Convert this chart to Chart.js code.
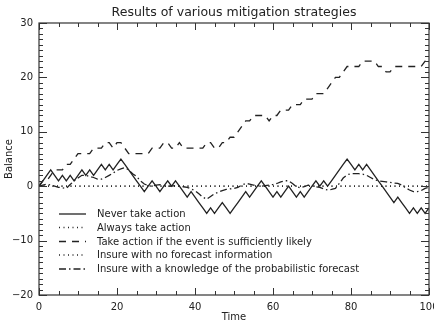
<!DOCTYPE html>
<html>
<head>
<meta charset="utf-8">
<script src="https://cdn.jsdelivr.net/npm/chart.js@4.4.1/dist/chart.umd.min.js"></script>
<style>
  html, body { margin: 0; padding: 0; background: #fff; }
  #wrap { width: 434px; height: 322px; }
</style>
</head>
<body>
<div id="wrap"><canvas id="c" width="434" height="322"></canvas></div>
<script>
// ─── Data ──────────────────────────────────────────────────────────────────
const times = [
  0, 1, 2, 3, 4, 5, 6, 7, 8, 9, 10, 11, 12, 13, 14, 15, 16, 17, 18, 19,
  20, 21, 22, 23, 24, 25, 26, 27, 28, 29, 30, 31, 32, 33, 34, 35, 36, 37, 38, 39,
  40, 41, 42, 43, 44, 45, 46, 47, 48, 49, 50, 51, 52, 53, 54, 55, 56, 57, 58, 59,
  60, 61, 62, 63, 64, 65, 66, 67, 68, 69, 70, 71, 72, 73, 74, 75, 76, 77, 78, 79,
  80, 81, 82, 83, 84, 85, 86, 87, 88, 89, 90, 91, 92, 93, 94, 95, 96, 97, 98, 99, 100
];

const neverAct = [
  0, 1, 2, 3, 2, 1, 2, 1, 2, 1, 2, 3, 2, 3, 2, 3, 4, 3, 4, 3,
  4, 5, 4, 3, 2, 1, 0, -1, 0, 1, 0, -1, 0, 1, 0, 1, 0, -1, -2, -1,
  -2, -3, -4, -5, -4, -5, -4, -3, -4, -5, -4, -3, -2, -1, -2, -1, 0, 1, 0, -1,
  -2, -1, -2, -1, 0, -1, -2, -1, -2, -1, 0, 1, 0, 1, 0, 1, 2, 3, 4, 5,
  4, 3, 4, 3, 4, 3, 2, 1, 0, -1, -2, -3, -2, -3, -4, -5, -4, -5, -4, -5, -4
];

const alwaysAct = [
  0, 0, 0, 0, 0, 0, 0, 0, 0, 0, 0, 0, 0, 0, 0, 0, 0, 0, 0, 0,
  0, 0, 0, 0, 0, 0, 0, 0, 0, 0, 0, 0, 0, 0, 0, 0, 0, 0, 0, 0,
  0, 0, 0, 0, 0, 0, 0, 0, 0, 0, 0, 0, 0, 0, 0, 0, 0, 0, 0, 0,
  0, 0, 0, 0, 0, 0, 0, 0, 0, 0, 0, 0, 0, 0, 0, 0, 0, 0, 0, 0,
  0, 0, 0, 0, 0, 0, 0, 0, 0, 0, 0, 0, 0, 0, 0, 0, 0, 0, 0, 0, 0
];

const actIfLikely = [
  0, 1, 1, 2, 3, 3, 3, 4, 4, 5, 6, 6, 6, 6, 7, 7, 7, 8, 8, 7,
  8, 8, 7, 6, 6, 6, 6, 6, 6, 7, 7, 7, 8, 8, 7, 7, 8, 7, 7, 7,
  7, 7, 7, 8, 8, 7, 7, 8, 8, 9, 9, 10, 11, 12, 12, 13, 13, 13, 13, 12,
  13, 13, 14, 14, 14, 15, 15, 15, 16, 16, 16, 17, 17, 17, 18, 19, 20, 20, 21, 22,
  22, 22, 22, 23, 23, 23, 23, 22, 22, 21, 21, 22, 22, 22, 22, 22, 22, 22, 22, 23, 23
];

const insureNoForecast = [
  0, 0, 0, 0, 0, 0, 0, 0, 0, 0, 0, 0, 0, 0, 0, 0, 0, 0, 0, 0,
  0, 0, 0, 0, 0, 0, 0, 0, 0, 0, 0, 0, 0, 0, 0, 0, 0, 0, 0, 0,
  0, 0, 0, 0, 0, 0, 0, 0, 0, 0, 0, 0, 0, 0, 0, 0, 0, 0, 0, 0,
  0, 0, 0, 0, 0, 0, 0, 0, 0, 0, 0, 0, 0, 0, 0, 0, 0, 0, 0, 0,
  0, 0, 0, 0, 0, 0, 0, 0, 0, 0, 0, 0, 0, 0, 0, 0, 0, 0, 0, 0, 0
];

const insureWithForecast = [
  0, 0.2, 0.4, 0.2, 0, -0.2, -0.3, -0.4, 0.3, 1, 1.5, 2, 2, 1.8, 1.6, 1.3, 1.3, 1.6, 2, 2.4,
  2.9, 3.2, 3.4, 3, 2.3, 1.8, 1, 0.4, 0.1, 0, 0.2, 0.3, 0.1, 0, 0, 0.1, 0, -0.1, -0.2, -0.5,
  -0.8, -1.4, -2, -2.4, -1.9, -1.4, -1.1, -0.8, -0.6, -0.5, -0.4, -0.2, 0.2, 0.5, 0.4, 0.2, 0.1, 0, 0.1, 0.2,
  0.3, 0.5, 0.8, 1, 1, 0.5, -0.1, -0.3, -0.1, 0.2, 0.1, -0.1, -0.2, -0.5, -0.7, -0.6, -0.4, 0.5, 1.5, 2.1,
  2.3, 2.3, 2.3, 2.2, 2, 1.6, 1.2, 1, 0.9, 0.8, 0.7, 0.6, 0.5, 0.2, -0.3, -0.7, -1, -1, -0.8, -0.4, -0.2
];

const seriesLabels = [
  'Never take action',
  'Always take action',
  'Take action if the event is sufficiently likely',
  'Insure with no forecast information',
  'Insure with a knowledge of the probabilistic forecast'
];

const xTicks = [0, 20, 40, 60, 80, 100];
const yTicks = [-20, -10, 0, 10, 20, 30];

// ─── Styling ───────────────────────────────────────────────────────────────
const INK = '#222';
const FONT = '"DejaVu Sans", Verdana, sans-serif';
const DASHES = [[], [1, 3.5], [7, 6], [1, 3.5], [7, 3, 1.5, 3]];

function series(i, data) {
  return {
    label: seriesLabels[i],
    data,
    borderColor: INK,
    borderWidth: 1.3,
    borderDash: DASHES[i],
    pointRadius: 0,
    tension: 0,
    fill: false,
  };
}

// Box, inward ticks on all four sides, and the in-plot legend
const frameAndLegend = {
  id: 'frameAndLegend',
  afterDraw(chart) {
    const { ctx, chartArea: a, scales: { x, y } } = chart;
    ctx.save();
    ctx.strokeStyle = '#333';
    ctx.lineWidth = 1.2;
    ctx.setLineDash([]);
    ctx.strokeRect(a.left, a.top, a.right - a.left, a.bottom - a.top);

    ctx.beginPath();
    for (let v = 0; v <= 100; v += 5) {
      const px = Math.round(x.getPixelForValue(v)) + 0.5;
      const len = v % 20 === 0 ? 7 : 4;
      ctx.moveTo(px, a.bottom); ctx.lineTo(px, a.bottom - len);
      ctx.moveTo(px, a.top);    ctx.lineTo(px, a.top + len);
    }
    for (let v = -20; v <= 30; v += 1) {
      const py = Math.round(y.getPixelForValue(v)) + 0.5;
      const len = v % 10 === 0 ? 8 : 4;
      ctx.moveTo(a.left, py);  ctx.lineTo(a.left + len, py);
      ctx.moveTo(a.right, py); ctx.lineTo(a.right - len, py);
    }
    ctx.lineWidth = 1;
    ctx.stroke();

    // legend (drawn from the dataset styles)
    const rowY = [214, 227.5, 241.5, 255, 269];
    ctx.font = '10px ' + FONT;
    ctx.textBaseline = 'middle';
    ctx.fillStyle = INK;
    chart.data.datasets.forEach((ds, i) => {
      ctx.beginPath();
      ctx.setLineDash(ds.borderDash);
      ctx.lineWidth = ds.borderWidth;
      ctx.strokeStyle = ds.borderColor;
      ctx.moveTo(59, rowY[i]);
      ctx.lineTo(86, rowY[i]);
      ctx.stroke();
      ctx.fillText(ds.label, 97, rowY[i] + 0.5);
    });
    ctx.restore();
  }
};

new Chart(document.getElementById('c'), {
  type: 'line',
  data: {
    labels: times,
    datasets: [
      series(0, neverAct),
      series(1, alwaysAct),
      series(2, actIfLikely),
      series(3, insureNoForecast),
      series(4, insureWithForecast),
    ],
  },
  options: {
    responsive: false,
    animation: false,
    devicePixelRatio: 1,
    layout: { padding: { top: 0, right: 5, left: 0, bottom: 0 } },
    plugins: {
      legend: { display: false },
      tooltip: { enabled: false },
      title: {
        display: true,
        text: 'Results of various mitigation strategies',
        fullSize: false,
        color: INK,
        font: { family: FONT, size: 12.5, weight: 'normal' },
        padding: { top: 5, bottom: 3 },
      },
    },
    scales: {
      x: {
        type: 'linear',
        min: 0,
        max: 100,
        grid: { display: false, drawTicks: false },
        border: { display: false },
        afterBuildTicks: s => { s.ticks = xTicks.map(v => ({ value: v })); },
        // let the "100" label run past the canvas edge like the original
        afterFit: s => { s.height = 27; s.paddingRight = 0; s.paddingLeft = 0; },
        ticks: { color: INK, font: { family: FONT, size: 10 }, padding: 6, maxRotation: 0 },
        title: { display: true, text: 'Time', color: INK, font: { family: FONT, size: 10 }, padding: { top: 0, bottom: -1 } },
      },
      y: {
        type: 'linear',
        min: -20,
        max: 30,
        grid: { display: false, drawTicks: false },
        border: { display: false },
        afterBuildTicks: s => { s.ticks = yTicks.map(v => ({ value: v })); },
        afterFit: s => { s.width = 39; },
        ticks: {
          color: INK,
          font: { family: FONT, size: 10 },
          padding: 6,
          callback: v => (v < 0 ? '\u2212' + Math.abs(v) : String(v)),
        },
        title: { display: true, text: 'Balance', color: INK, font: { family: FONT, size: 10 }, padding: { top: 3, bottom: 3 } },
      },
    },
  },
  plugins: [frameAndLegend],
});
</script>
</body>
</html>
